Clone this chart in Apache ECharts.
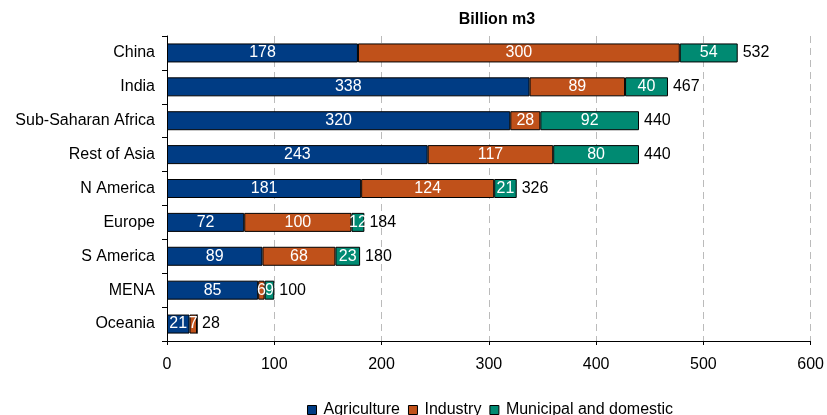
<!DOCTYPE html>
<html><head><meta charset="utf-8">
<script src="https://cdn.jsdelivr.net/npm/echarts@6/dist/echarts.min.js"></script>
<style>html,body{margin:0;padding:0;background:#fff}#c{width:827px;height:415px}</style>
</head><body><div id="c"></div>
<script>
const categories = ['China','India','Sub-Saharan Africa','Rest of Asia','N America','Europe','S America','MENA','Oceania'];
const agriculture = [178,338,320,243,181,72,89,85,21];
const industry = [300,89,28,117,124,100,68,6,7];
const municipal = [54,40,92,80,21,12,23,9,0];
const totals = [532,467,440,440,326,184,180,100,28];
const xTicks = [0,100,200,300,400,500,600];

const FONT = 'Liberation Sans, Arial, sans-serif';
const chart = echarts.init(document.getElementById('c'));
const inLabel = {show:true, position:'inside', color:'#fff', fontSize:16, fontFamily:FONT,
  formatter: p => p.value ? String(p.value) : ''};
const border = {borderColor:'#000', borderWidth:1};
chart.setOption({
  animation:false,
  title:{text:'Billion m3', left:492, top:7, textAlign:'center',
    textStyle:{fontSize:16, fontWeight:'bold', color:'#000', fontFamily:FONT}},
  legend:{top:397, left:302, itemWidth:9, itemHeight:9, itemGap:8,
    icon:'rect',
    itemStyle:{borderColor:'#000', borderWidth:1},
    textStyle:{fontSize:16, color:'#000', fontFamily:FONT, padding:[0,0,0,2]},
    data:['Agriculture','Industry','Municipal and domestic']},
  grid:{left:167, right:16, top:36, bottom:74, containLabel:false},
  xAxis:{type:'value', min:xTicks[0], max:xTicks[xTicks.length-1], interval:100,
    axisLine:{show:true, lineStyle:{color:'#000'}},
    axisTick:{show:true, length:4, lineStyle:{color:'#000'}},
    axisLabel:{fontSize:16, color:'#000', fontFamily:FONT, margin:16},
    splitLine:{show:true, lineStyle:{color:'#bbb', type:[7,5]}}},
  yAxis:{type:'category', data:categories, inverse:true,
    axisLine:{show:true, lineStyle:{color:'#000'}},
    axisTick:{show:true, length:5, lineStyle:{color:'#000'}},
    axisLabel:{fontSize:16, color:'#000', fontFamily:FONT, margin:12}},
  series:[
    {name:'Agriculture', type:'bar', stack:'s', data:agriculture, barWidth:19,
      itemStyle:Object.assign({color:'#003c84'},border), label:inLabel},
    {name:'Industry', type:'bar', stack:'s', data:industry,
      itemStyle:Object.assign({color:'#c0511a'},border), label:inLabel},
    {name:'Municipal and domestic', type:'bar', stack:'s', data:municipal,
      itemStyle:Object.assign({color:'#008a72'},border), label:inLabel},
    {name:'Total', type:'bar', stack:'s', data:totals.map(()=>0),
      itemStyle:{color:'transparent', borderWidth:0},
      label:{show:true, position:'right', distance:5, color:'#000', fontSize:16, fontFamily:FONT,
        formatter: p => String(totals[p.dataIndex])}}
  ]
});
</script></body></html>
